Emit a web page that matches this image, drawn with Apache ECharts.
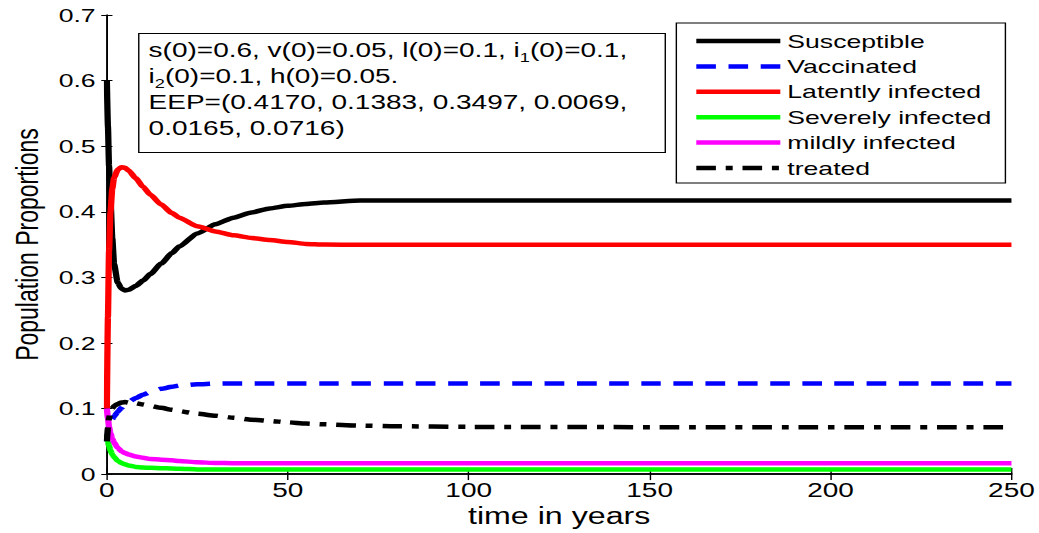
<!DOCTYPE html>
<html>
<head>
<meta charset="utf-8">
<script src="https://cdn.jsdelivr.net/npm/echarts@6.0.0/dist/echarts.min.js"></script>
<style>
    html, body {
        margin: 0;
        padding: 0;
        overflow: hidden;
        background: #fff;
    }
    /* the source figure is stretched sideways, so the chart is drawn narrower and widened */
    #chart {
        width: 742px;
        height: 533px;
        transform: scaleX(1.4003);
        transform-origin: 0 0;
    }
</style>
</head>
<body>
<div id="chart"></div>
<script>
const years = [0, 0.3, 0.6, 1, 1.5, 2, 3, 4, 5, 6, 8, 10, 12, 15, 18, 20, 25, 30, 35, 40, 45, 50, 55, 60, 70, 80, 100, 150, 200, 250];

const susceptible = [0.6, 0.53, 0.47, 0.42, 0.36, 0.32, 0.292, 0.283, 0.28, 0.281, 0.287, 0.295, 0.305, 0.321, 0.337, 0.347, 0.367, 0.381, 0.391, 0.399, 0.405, 0.409, 0.412, 0.414, 0.417, 0.417, 0.417, 0.417, 0.417, 0.417];
const vaccinated = [0.05, 0.062, 0.072, 0.079, 0.084, 0.088, 0.095, 0.101, 0.106, 0.11, 0.116, 0.121, 0.125, 0.13, 0.133, 0.135, 0.137, 0.138, 0.1383, 0.1383, 0.1383, 0.1383, 0.1383, 0.1383, 0.1383, 0.1383, 0.1383, 0.1383, 0.1383, 0.1383];
const latent = [0.1, 0.24, 0.34, 0.4, 0.435, 0.452, 0.464, 0.468, 0.467, 0.463, 0.451, 0.438, 0.426, 0.411, 0.398, 0.391, 0.378, 0.37, 0.364, 0.36, 0.357, 0.354, 0.351, 0.35, 0.3497, 0.3497, 0.3497, 0.3497, 0.3497, 0.3497];
const severe = [0.06, 0.05, 0.043, 0.036, 0.03, 0.026, 0.02, 0.017, 0.015, 0.013, 0.011, 0.01, 0.0095, 0.009, 0.0085, 0.008, 0.0072, 0.007, 0.0069, 0.0069, 0.0069, 0.0069, 0.0069, 0.0069, 0.0069, 0.0069, 0.0069, 0.0069, 0.0069, 0.0069];
const mild = [0.1, 0.085, 0.072, 0.062, 0.054, 0.048, 0.04, 0.035, 0.032, 0.03, 0.027, 0.025, 0.023, 0.022, 0.021, 0.02, 0.018, 0.017, 0.0165, 0.0165, 0.0165, 0.0165, 0.0165, 0.0165, 0.0165, 0.0165, 0.0165, 0.0165, 0.0165, 0.0165];
const treated = [0.05, 0.07, 0.085, 0.095, 0.1, 0.104, 0.107, 0.109, 0.11, 0.109, 0.108, 0.106, 0.104, 0.101, 0.098, 0.096, 0.092, 0.089, 0.086, 0.083, 0.081, 0.079, 0.077, 0.076, 0.074, 0.073, 0.072, 0.0716, 0.0716, 0.0716];

const noteLines = [
    's(0)=0.6, v(0)=0.05, l(0)=0.1, i{sub|1}(0)=0.1,',
    'i{sub|2}(0)=0.1, h(0)=0.05.',
    'EEP=(0.4170, 0.1383, 0.3497, 0.0069,',
    '0.0165, 0.0716)',
];

const font = 'Arial, "Liberation Sans", sans-serif';

const pairs = values => years.map((t, i) => [t, values[i]]);

const makeLine = (name, values, color, type) => ({
    name: name,
    type: 'line',
    data: pairs(values),
    symbol: 'none',
    smooth: 0.2,
    smoothMonotone: 'x',
    color: color,
    lineStyle: {
        color: color,
        width: 4.5,
        type: type || 'solid',
    },
    emphasis: {disabled: true},
});

// frame axes (top and right) only carry inner ticks, as in the MATLAB figure
const frameTick = {show: true, inside: true};

const myChart = echarts.init(document.getElementById('chart'), null, {renderer: 'svg'});
myChart.setOption({
    animation: false,
    grid: {
        left: 74.3,
        right: 18.4,
        top: 15,
        bottom: 55,
    },
    legend: {
        orient: 'vertical',
        left: 483,
        top: 23,
        padding: [8.5, 10, 5.5, 12],
        itemWidth: 60,
        itemHeight: 14,
        itemGap: 6.4,
        borderColor: '#000',
        borderWidth: 1,
        backgroundColor: '#fff',
        // line series add a marker in the middle of the icon; hide it
        itemStyle: {opacity: 0},
        lineStyle: {width: 4.5},
        textStyle: {
            fontFamily: font,
            fontSize: 19,
            color: '#000',
        },
        z: 50,
    },
    xAxis: [
        {
            type: 'value',
            min: 0,
            max: 250,
            interval: 50,
            name: 'time in years',
            nameLocation: 'middle',
            nameGap: 29,
            nameTextStyle: {fontFamily: font, fontSize: 23, color: '#000'},
            axisLine: {lineStyle: {color: '#000', width: 1.5}},
            axisTick: {inside: true, length: 6, lineStyle: {color: '#000'}},
            axisLabel: {fontFamily: font, fontSize: 20, color: '#000', margin: 6},
            splitLine: {show: false},
        },
        {
            type: 'value',
            position: 'top',
            min: 0,
            max: 250,
            interval: 50,
            axisLine: {lineStyle: {color: '#000', width: 1.5}},
            axisTick: {...frameTick, length: 6, lineStyle: {color: '#000'}},
            axisLabel: {show: false},
            splitLine: {show: false},
        },
    ],
    yAxis: [
        {
            type: 'value',
            min: 0,
            max: 0.7,
            interval: 0.1,
            name: 'Population Proportions',
            nameLocation: 'middle',
            nameGap: 42,
            nameTextStyle: {fontFamily: font, fontSize: 23, color: '#000'},
            axisLine: {show: true, lineStyle: {color: '#000', width: 1.2}},
            axisTick: {show: true, inside: true, length: 4, lineStyle: {color: '#000'}},
            axisLabel: {fontFamily: font, fontSize: 19, color: '#000', margin: 8},
            splitLine: {show: false},
        },
        {
            type: 'value',
            position: 'right',
            min: 0,
            max: 0.7,
            interval: 0.1,
            axisLine: {show: true, lineStyle: {color: '#000', width: 1.2}},
            axisTick: {...frameTick, length: 4, lineStyle: {color: '#000'}},
            axisLabel: {show: false},
            splitLine: {show: false},
        },
    ],
    graphic: [
        {
            type: 'group',
            left: 98.6,
            top: 33,
            z: 100,
            children: [
                {
                    type: 'rect',
                    shape: {x: 0, y: 0, width: 376, height: 119},
                    style: {fill: '#fff', stroke: '#000', lineWidth: 1},
                },
                {
                    type: 'text',
                    x: 7,
                    y: 4,
                    style: {
                        text: noteLines.join('\n'),
                        fontFamily: font,
                        fontSize: 20,
                        lineHeight: 26,
                        fill: '#000',
                        rich: {
                            sub: {
                                fontFamily: font,
                                fontSize: 13,
                                lineHeight: 13,
                                verticalAlign: 'bottom',
                                fill: '#000',
                            },
                        },
                    },
                },
            ],
        },
    ],
    series: [
        makeLine('Susceptible', susceptible, '#000000'),
        makeLine('Vaccinated', vaccinated, '#0000ff', [14, 9]),
        makeLine('Latently infected', latent, '#ff0000'),
        makeLine('Severely infected', severe, '#00ff00'),
        makeLine('mildly infected', mild, '#ff00ff'),
        makeLine('treated', treated, '#000000', [14, 7, 5, 7]),
    ],
});
</script>
</body>
</html>
